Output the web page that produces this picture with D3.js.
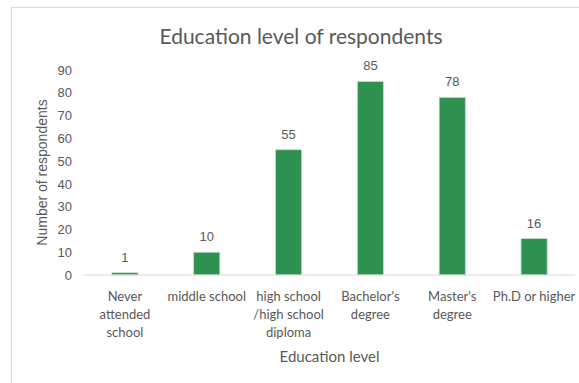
<!DOCTYPE html>
<html>
<head>
<meta charset="utf-8">
<script src="https://cdn.jsdelivr.net/npm/d3@7"></script>
<style>
  body { margin: 0; background: #fff; }
  text { fill: #595959; }
</style>
</head>
<body>
<svg id="chart" width="579" height="383"></svg>
<script>
var svg = d3.select('#chart')

// data
var levels = [["Never", "attended", "school"], ["middle school"], ["high school", "/high school", "diploma"],
    ["Bachelor's", "degree"], ["Master's", "degree"], ["Ph.D or higher"]];
var counts = [1, 10, 55, 85, 78, 16];
var yTicks = [0, 10, 20, 30, 40, 50, 60, 70, 80, 90];

var margin = { top: 70, left: 84, right: 4, bottom: 108 },
    width = 579 - margin.left - margin.right,
    height = 383 - margin.top - margin.bottom;

// chart frame
svg.append('rect')
    .attr('x', 11.5).attr('y', 7.5)
    .attr('width', 600).attr('height', 400)
    .attr('fill', 'none')
    .attr('stroke', '#d9d9d9')

var x = d3.scaleBand()
    .domain(d3.range(levels.length))
    .range([0, width])
    .paddingInner(0.68)
    .paddingOuter(0.34)
var y = d3.scaleLinear().domain([0, 90]).range([height, 0]);

var g = svg.append('g').attr('transform', 'translate(' + margin.left + ',' + margin.top + ')')

// y axis (labels only)
var yAxis = g.append('g')
    .call(d3.axisLeft(y).tickValues(yTicks).tickSize(0).tickPadding(12))
yAxis.select('.domain').remove()
yAxis.selectAll('text')
    .attr('font-family', 'Liberation Sans, Arial, sans-serif')
    .attr('font-size', '13px')
    .attr('fill', '#595959')

// bars
g.selectAll('rect.bar')
    .data(counts)
    .enter()
    .append('rect')
    .attr('class', 'bar')
    .attr('x', function (d, i) { return x(i); })
    .attr('y', function (d) { return y(d); })
    .attr('width', x.bandwidth())
    .attr('height', function (d) { return height - y(d); })
    .attr('fill', '#2e9150')
    .attr('stroke', '#c5e3cc')
    .attr('stroke-width', 0.8)

// baseline
g.append('line')
    .attr('x1', 0).attr('x2', width)
    .attr('y1', y(0)).attr('y2', y(0))
    .attr('stroke', '#d9d9d9')
    .attr('stroke-width', 1.2)

// value labels
g.selectAll('text.val')
    .data(counts)
    .enter()
    .append('text')
    .attr('class', 'val')
    .attr('x', function (d, i) { return x(i) + x.bandwidth() / 2; })
    .attr('y', function (d) { return y(d) - 11; })
    .attr('text-anchor', 'middle')
    .attr('font-family', 'Liberation Sans, Arial, sans-serif')
    .attr('font-size', '13px')
    .text(function (d) { return d; })

// category labels
var cats = g.selectAll('text.cat')
    .data(levels)
    .enter()
    .append('text')
    .attr('class', 'cat')
    .attr('text-anchor', 'middle')
    .attr('font-family', 'Lato, sans-serif')
    .attr('font-size', '13px')
    .attr('transform', function (d, i) { return 'translate(' + (x(i) + x.bandwidth() / 2) + ',' + (height + 26) + ')'; })
cats.selectAll('tspan')
    .data(function (d) { return d; })
    .enter()
    .append('tspan')
    .attr('x', 0)
    .attr('y', function (d, i) { return i * 18; })
    .text(function (d) { return d; })

// titles
svg.append('text')
    .attr('x', 301)
    .attr('y', 44)
    .attr('text-anchor', 'middle')
    .attr('font-family', 'Lato, sans-serif')
    .attr('font-size', '21px')
    .text('Education level of respondents')

svg.append('text')
    .attr('x', margin.left + width / 2)
    .attr('y', 362)
    .attr('text-anchor', 'middle')
    .attr('font-family', 'Lato, sans-serif')
    .attr('font-size', '15px')
    .text('Education level')

svg.append('text')
    .attr('transform', 'translate(47,' + (margin.top + height / 2) + ') rotate(-90)')
    .attr('text-anchor', 'middle')
    .attr('font-family', 'Liberation Sans, Arial, sans-serif')
    .attr('font-size', '14px')
    .text('Number of respondents')
</script>
</body>
</html>
